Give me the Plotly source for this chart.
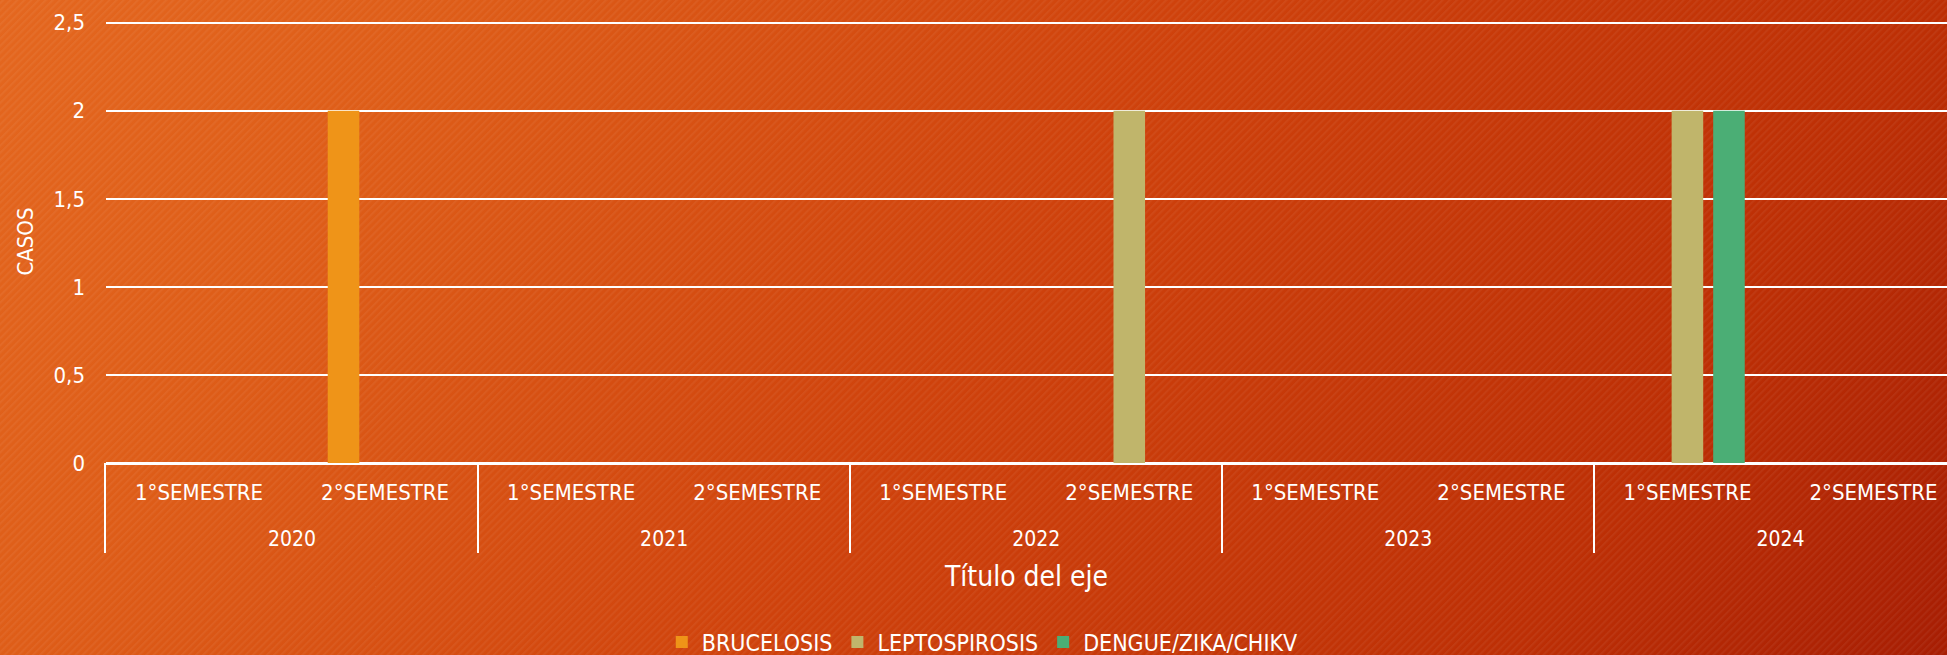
import base64
import plotly.graph_objects as go

# ---- data ----
years = ["2020", "2021", "2022", "2023", "2024"]
semesters = ["1°SEMESTRE", "2°SEMESTRE"]
series_names = ["BRUCELOSIS", "LEPTOSPIROSIS", "DENGUE/ZIKA/CHIKV"]
brucelosis = [None, 2, None, None, None, None, None, None, None, None]
leptospirosis = [None, None, None, None, None, 2, None, None, 2, None]
dengue = [None, None, None, None, None, None, None, None, 2, None]
y_ticks = [0, 0.5, 1, 1.5, 2, 2.5]

series_values = [brucelosis, leptospirosis, dengue]
series_colors = ["#EF9418", "#C0B56B", "#4BAE75"]

n_sem = len(semesters)
x_sem = [s for _ in years for s in semesters]
x_idx = list(range(len(x_sem)))
year_centers = [n_sem * i + (n_sem - 1) / 2 for i in range(len(years))]
year_bounds = [n_sem * i - 0.5 for i in range(len(years) + 1)]

# ---- geometry (pixels) ----
W, H = 1947, 655
ml = 105.5
top_grid_px = 22.4
main_bottom, label_bottom = 463, 553
y_top_val = max(y_ticks)
px_per_unit = (main_bottom - top_grid_px) / y_top_val
y_range = [0, y_top_val * 1.006]
mt = main_bottom - y_range[1] * px_per_unit
mb = H - label_bottom
ph = label_bottom - mt
pw = W - ml
d = (label_bottom - main_bottom) / ph
cat_px = 186.1
x_range = [-0.5, -0.5 + pw / cat_px]

# ---- background (gradient + diagonal texture) ----
svg = f'''<svg xmlns="http://www.w3.org/2000/svg" width="{W}" height="{H}" viewBox="0 0 {W} {H}" preserveAspectRatio="none">
<defs>
<linearGradient id="g" gradientUnits="userSpaceOnUse" x1="0" y1="0" x2="{W}" y2="1300">
<stop offset="0" stop-color="#E4671F"/>
<stop offset="0.16" stop-color="#DE5D18"/>
<stop offset="0.42" stop-color="#CF420C"/>
<stop offset="0.69" stop-color="#BD2F05"/>
<stop offset="0.85" stop-color="#A61D03"/>
<stop offset="1" stop-color="#A01A02"/>
</linearGradient>
<pattern id="p" patternUnits="userSpaceOnUse" width="5" height="5" patternTransform="rotate(-45)">
<rect width="5" height="2" fill="#ffffff" fill-opacity="0.05"/>
</pattern>
</defs>
<rect width="{W}" height="{H}" fill="url(#g)"/>
<rect width="{W}" height="{H}" fill="url(#p)"/>
</svg>'''
bg_uri = "data:image/svg+xml;base64," + base64.b64encode(svg.encode()).decode()

FONT = "Liberation Sans Narrow, DejaVu Sans Condensed, Arial Narrow, sans-serif"

fig = go.Figure()
for name, vals, col in zip(series_names, series_values, series_colors):
    fig.add_trace(go.Bar(
        x=x_idx, y=vals, name=name, xaxis="x", yaxis="y",
        marker=dict(color=col, line=dict(width=0)),
    ))
# invisible carrier for the year-label axis
fig.add_trace(go.Scatter(
    x=year_centers, y=[None] * len(years), xaxis="x2", yaxis="y2",
    mode="markers", showlegend=False, hoverinfo="skip",
))

pad_px = 3
fig.update_layout(
    width=W, height=H,
    margin=dict(l=ml, r=0, t=mt, b=mb, pad=0, autoexpand=False),
    paper_bgcolor="#D24A10",
    plot_bgcolor="rgba(0,0,0,0)",
    separators=", ",
    barmode="group",
    bargap=0.33,
    bargroupgap=0.24,
    font=dict(family=FONT, color="white", size=22),
    showlegend=True,
    legend=dict(
        orientation="h", x=(982 - ml) / pw, y=(label_bottom - 642) / ph,
        xanchor="center", yanchor="middle",
        font=dict(family=FONT, size=23, color="white"),
        bgcolor="rgba(0,0,0,0)",
    ),
    images=[dict(
        source=bg_uri, xref="paper", yref="paper",
        x=-(ml + pad_px) / pw, y=1 + (mt + pad_px) / ph,
        sizex=(W + 2 * pad_px) / pw, sizey=(H + 2 * pad_px) / ph,
        xanchor="left", yanchor="top", sizing="stretch", layer="below",
    )],
    xaxis=dict(
        anchor="y", domain=[0, 1], range=x_range, automargin=False,
        tickmode="array", tickvals=x_idx, ticktext=x_sem,
        showline=True, linecolor="white", linewidth=1.5,
        ticks="", showgrid=False, zeroline=False,
        ticklabelstandoff=9,
        tickfont=dict(family=FONT, size=22, color="white"),
    ),
    yaxis=dict(
        anchor="x", domain=[d, 1], range=y_range, automargin=False,
        tickmode="array", tickvals=y_ticks,
        showgrid=True, gridcolor="white", gridwidth=1.5,
        zeroline=True, zerolinecolor="white", zerolinewidth=1.5,
        ticks="", ticklabelstandoff=20,
        tickfont=dict(family=FONT, size=22, color="white"),
        title=dict(text="CASOS", font=dict(family=FONT, size=22, color="white"), standoff=13),
    ),
    xaxis2=dict(
        anchor="y2", domain=[0, 1], range=x_range, automargin=False,
        tickmode="array", tickvals=year_centers, ticktext=years,
        ticklabelposition="inside", ticklabelstandoff=0,
        showline=False, ticks="", showgrid=False, zeroline=False,
        minor=dict(tickmode="array", tickvals=year_bounds, showgrid=True,
                   gridcolor="white", gridwidth=1.5, ticks=""),
        tickfont=dict(family=FONT, size=21, color="white"),
        title=dict(text="Título del eje", font=dict(family=FONT, size=28, color="white"), standoff=16),
    ),
    yaxis2=dict(
        anchor="x2", domain=[0, d], range=[0, 1], automargin=False,
        showgrid=False, zeroline=False, showticklabels=False, ticks="",
        showline=True, linecolor="white", linewidth=1.5,
    ),
)

fig.write_html(
    "out.html",
    config={"displayModeBar": False},
    post_script="document.body.style.margin='0';document.body.style.overflow='hidden';",
)
